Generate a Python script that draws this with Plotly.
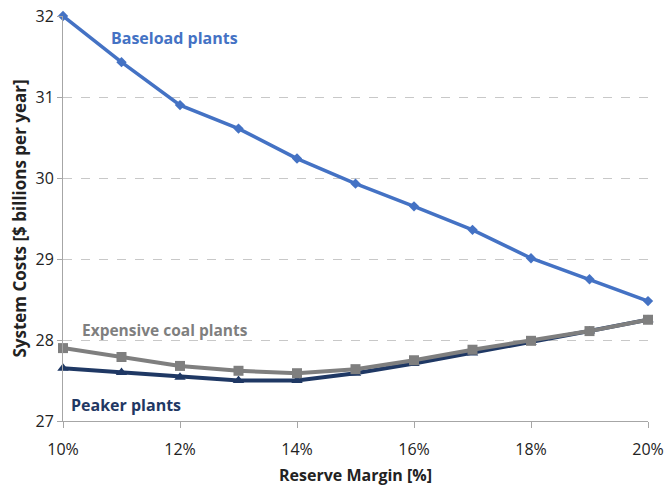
import plotly.graph_objects as go

reserve_margin = [10, 11, 12, 13, 14, 15, 16, 17, 18, 19, 20]
baseload = [32.0, 31.43, 30.90, 30.61, 30.24, 29.93, 29.65, 29.36, 29.01, 28.75, 28.48]
expensive_coal = [27.90, 27.79, 27.68, 27.62, 27.59, 27.64, 27.75, 27.88, 27.99, 28.11, 28.25]
peaker = [27.65, 27.60, 27.54, 27.50, 27.50, 27.59, 27.71, 27.84, 27.97, 28.11, 28.25]
x_ticks = [10, 12, 14, 16, 18, 20]
x_tick_labels = ["10%", "12%", "14%", "16%", "18%", "20%"]
y_ticks = [27, 28, 29, 30, 31, 32]

c_base = "#4472C4"
c_coal = "#7F7F7F"
c_peak = "#1F3864"

fig = go.Figure()
fig.add_trace(go.Scatter(x=reserve_margin, y=peaker, mode="lines+markers",
                         line=dict(color=c_peak, width=4),
                         marker=dict(symbol="triangle-up", size=10, color=c_peak),
                         cliponaxis=False, name="Peaker plants"))
fig.add_trace(go.Scatter(x=reserve_margin, y=expensive_coal, mode="lines+markers",
                         line=dict(color=c_coal, width=4),
                         marker=dict(symbol="square", size=10, color=c_coal),
                         cliponaxis=False, name="Expensive coal plants"))
fig.add_trace(go.Scatter(x=reserve_margin, y=baseload, mode="lines+markers",
                         line=dict(color=c_base, width=3.5),
                         marker=dict(symbol="diamond", size=8, color=c_base),
                         cliponaxis=False, name="Baseload plants"))

font_family = "Open Sans, Liberation Sans, sans-serif"

fig.add_annotation(x=11.91, y=31.73, text="<b>Baseload plants</b>", showarrow=False,
                   font=dict(color=c_base, size=16, family=font_family))
fig.add_annotation(x=11.75, y=28.12, text="<b>Expensive coal plants</b>", showarrow=False,
                   font=dict(color=c_coal, size=15.5, family=font_family))
fig.add_annotation(x=11.085, y=27.2, text="<b>Peaker plants</b>", showarrow=False,
                   font=dict(color=c_peak, size=16, family=font_family))

fig.update_layout(
    width=664, height=488,
    margin=dict(l=63, r=16, t=16, b=67, autoexpand=False),
    plot_bgcolor="white", paper_bgcolor="white",
    showlegend=False,
    font=dict(family=font_family, color="#222222"),
)
fig.update_xaxes(range=[10, 20], tickvals=x_ticks, ticktext=x_tick_labels,
                 showgrid=False, showline=True, linecolor="#A6A6A6", linewidth=1,
                 ticks="outside", ticklen=6, tickcolor="#A6A6A6",
                 tickfont=dict(size=16, color="#222222"), ticklabelstandoff=8,
                 title=dict(text="<b>Reserve Margin [%]</b>", font=dict(size=16), standoff=10),
                 zeroline=False, automargin=False)
fig.update_yaxes(range=[27, 32], tickvals=y_ticks,
                 showgrid=True, gridcolor="#C8C8C8", griddash="dash", gridwidth=1,
                 showline=True, linecolor="#A6A6A6", linewidth=1,
                 ticks="outside", ticklen=5, tickcolor="#A6A6A6",
                 tickfont=dict(size=16, color="#222222"),
                 title=dict(text="<b>System Costs [$ billions per year]</b>", font=dict(size=17), standoff=4),
                 zeroline=False, automargin=False)

fig.write_html("out.html", config={"displayModeBar": False},
               post_script="document.body.style.margin='0';")
